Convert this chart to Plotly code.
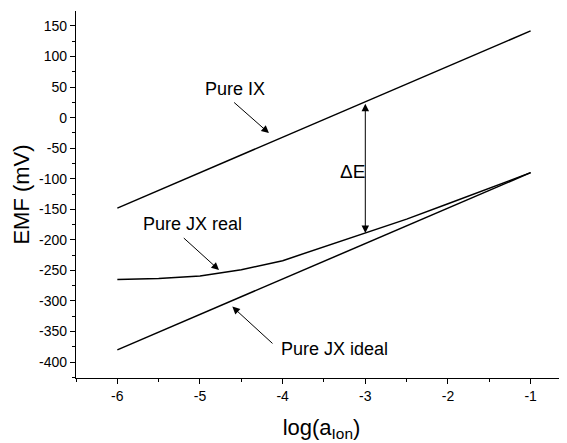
import plotly.graph_objects as go

# Data
x_ideal = [-6, -1]
ix_vals = [-148, 142]
jx_ideal_vals = [-380, -90]
x_real = [-6, -5.5, -5, -4.5, -4, -3.5, -3, -2.5, -2, -1.5, -1]
jx_real_vals = [-265, -263, -259, -249, -234, -211, -188, -166, -141, -116, -90]

x_ticks = [-6, -5, -4, -3, -2, -1]
y_ticks = [150, 100, 50, 0, -50, -100, -150, -200, -250, -300, -350, -400]

FONT = "Liberation Sans, Arial, Helvetica, sans-serif"
line_style = dict(color="black", width=1.5)

fig = go.Figure()
fig.add_trace(go.Scatter(x=x_ideal, y=ix_vals, mode="lines", line=line_style, showlegend=False))
fig.add_trace(go.Scatter(x=x_ideal, y=jx_ideal_vals, mode="lines", line=line_style, showlegend=False))
fig.add_trace(go.Scatter(x=x_real, y=jx_real_vals, mode="lines", line=line_style, showlegend=False))

def arrow(x, y, ax, ay, side="end"):
    fig.add_annotation(x=x, y=y, ax=ax, ay=ay, xref="x", yref="y", axref="x", ayref="y",
                       text="", showarrow=True, arrowhead=2, arrowsize=1.5, arrowwidth=1,
                       arrowcolor="black", standoff=0, startstandoff=0, arrowside=side,
                       startarrowhead=2, startarrowsize=1.5)

def label(x, y, t, size=18):
    fig.add_annotation(x=x, y=y, xref="x", yref="y", text=t, showarrow=False,
                       font=dict(family=FONT, size=size, color="black"))

label(-4.58, 47, "Pure IX")
arrow(-4.166, -25.3, -4.605, 27)
label(-5.085, -174, "Pure JX real")
arrow(-4.77, -249.2, -5.214, -194.8)
label(-3.371, -378.3, "Pure JX ideal")
arrow(-4.609, -309.2, -4.105, -371.7)
label(-3.158, -87.4, "ΔE", size=19)
arrow(-3, -188.7, -3, 25.3, side="end+start")

fig.update_layout(
    width=567, height=443,
    margin=dict(l=68, r=8, t=3, b=73),
    plot_bgcolor="white", paper_bgcolor="white",
    font=dict(family=FONT, color="black"),
    showlegend=False,
)
fig.update_xaxes(
    range=[-6.5, -0.56], tickvals=x_ticks, ticktext=[str(v) for v in x_ticks],
    showgrid=False, zeroline=False, showline=True, linecolor="black", linewidth=1.3,
    ticks="outside", ticklen=5, tickwidth=1.2, tickcolor="black",
    minor=dict(dtick=0.5, ticks="outside", ticklen=3, tickwidth=1.2, tickcolor="black", showgrid=False),
    tickfont=dict(size=14),
    title=dict(text="log(a<sub>Ion</sub>)", font=dict(size=22), standoff=16),
)
fig.update_yaxes(
    range=[-426, 174.5], tickvals=y_ticks, ticktext=[str(v) for v in y_ticks],
    showgrid=False, zeroline=False, showline=True, linecolor="black", linewidth=1.3,
    ticks="outside", ticklen=5, tickwidth=1.2, tickcolor="black",
    minor=dict(dtick=25, ticks="outside", ticklen=3, tickwidth=1.2, tickcolor="black", showgrid=False),
    tickfont=dict(size=14),
    title=dict(text="EMF (mV)", font=dict(size=22), standoff=3),
)

fig.write_html("out.html")
